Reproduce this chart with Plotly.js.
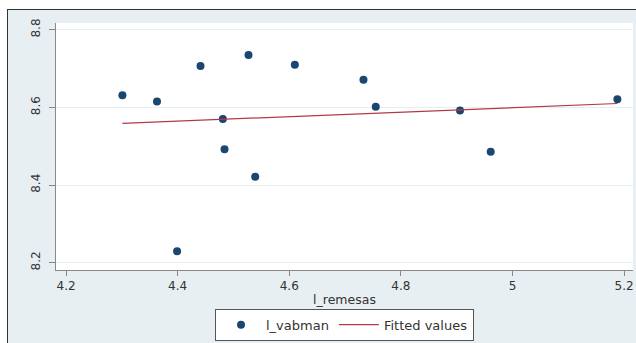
<!DOCTYPE html>
<html>
<head>
<meta charset="utf-8">
<script src="https://cdn.plot.ly/plotly-3.0.1.min.js"></script>
<style>
  html, body { margin: 0; padding: 0; background: #ffffff; width: 636px; height: 343px; overflow: hidden; }
  #chart { position: absolute; left: 7px; top: 9px; width: 629px; height: 334px;
           border-top: 1px solid #333; border-left: 1px solid #333; }
</style>
</head>
<body>
<div id="chart"></div>
<script>
const l_remesas = [4.301, 4.363, 4.399, 4.441, 4.481, 4.484, 4.527, 4.539, 4.610, 4.733, 4.755, 4.906, 4.961, 5.188];
const l_vabman  = [8.631, 8.615, 8.229, 8.707, 8.570, 8.492, 8.735, 8.421, 8.710, 8.671, 8.602, 8.592, 8.486, 8.621];

// Fitted values line (end points)
const fit_x = [4.301, 5.188];
const fit_y = [8.559, 8.610];

// Tick labels
const xTickVals = [4.2, 4.4, 4.6, 4.8, 5.0, 5.2];
const xTickText = ['4.2', '4.4', '4.6', '4.8', '5', '5.2'];
const yTickVals = [8.2, 8.4, 8.6, 8.8];
const yTickText = ['8.2', '8.4', '8.6', '8.8'];

const FONT = 'DejaVu Sans, Arial, sans-serif';

const traces = [
  {
    x: l_remesas, y: l_vabman, type: 'scatter', mode: 'markers', name: 'l_vabman',
    marker: { color: '#1a476f', size: 8 }
  },
  {
    x: fit_x, y: fit_y, type: 'scatter', mode: 'lines', name: 'Fitted values',
    line: { color: '#b23a48', width: 1.2 }
  }
];

const layout = {
  width: 628, height: 333,
  margin: { l: 48, r: 3, t: 13, b: 72 },
  paper_bgcolor: '#e8eff2',
  plot_bgcolor: '#ffffff',
  font: { family: FONT, size: 12, color: '#333' },
  showlegend: true,
  legend: {
    orientation: 'h', x: 0.5, xanchor: 'center', y: -0.152, yanchor: 'top',
    bgcolor: '#ffffff', bordercolor: '#555', borderwidth: 1,
    font: { family: FONT, size: 13, color: '#333' },
    itemwidth: 40, tracegroupgap: 0
  },
  xaxis: {
    range: [4.182, 5.216],
    tickvals: xTickVals, ticktext: xTickText,
    showgrid: false, zeroline: false,
    showline: true, linecolor: '#888', linewidth: 1,
    ticks: 'outside', ticklen: 5, tickcolor: '#888',
    tickfont: { family: FONT, size: 12, color: '#333' },
    title: { text: 'l_remesas', font: { family: FONT, size: 12.5, color: '#333' }, standoff: 2 }
  },
  yaxis: {
    range: [8.181, 8.8175],
    tickvals: yTickVals, ticktext: yTickText,
    tickangle: -90,
    showgrid: true, gridcolor: '#e6eef0', gridwidth: 1,
    zeroline: false,
    showline: true, linecolor: '#888', linewidth: 1,
    ticks: 'outside', ticklen: 6, tickcolor: '#888',
    tickfont: { family: FONT, size: 12, color: '#333' },
    ticklabelstandoff: 4
  }
};

Plotly.newPlot('chart', traces, layout, { staticPlot: true, displayModeBar: false });
</script>
</body>
</html>
